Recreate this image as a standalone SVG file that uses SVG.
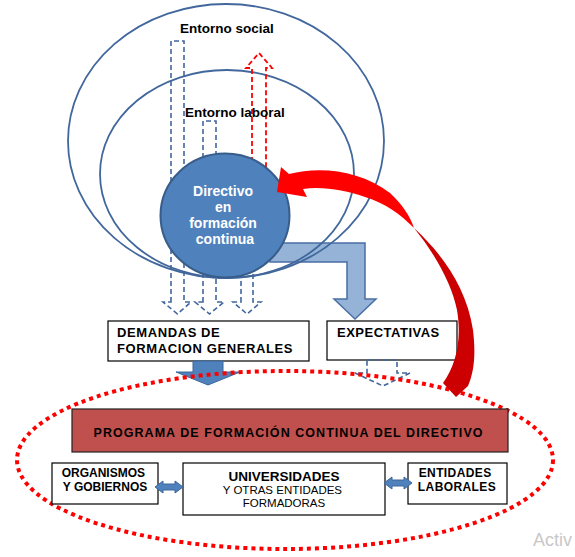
<svg xmlns="http://www.w3.org/2000/svg" width="575" height="557" viewBox="0 0 575 557">
<style>
text{font-family:"Liberation Sans",Arial,sans-serif;}
.b{font-weight:bold;}
.env{fill:none;stroke:#41679C;stroke-width:1.8;}
.dash{fill:none;stroke:#41679C;stroke-width:1.6;stroke-dasharray:5,3;}
.dashr{fill:none;stroke:#FF0000;stroke-width:1.8;stroke-dasharray:5,3;}
.box{fill:#fff;stroke:#000;stroke-width:1.2;}
.dbl{fill:#4F81BD;stroke:#3A679C;stroke-width:1;}
</style>
<rect width="575" height="557" fill="#fff"/>
<g id="connectors">
  <path id="bent-arrow" d="M270,243 L365,243 L365,299 L376,299 L355,319 L334,299 L347,299 L347,262 L270,262 Z" fill="#95B3D7" stroke="#4A6FA5" stroke-width="1.5"/>
</g>
<g id="entorno-social">
  <ellipse class="env" cx="226" cy="141" rx="158" ry="137"/>
</g>
<g id="entorno-laboral">
  <ellipse class="env" cx="227" cy="174" rx="127" ry="104"/>
</g>
<g id="connectors-dashed">
  <path class="dash" d="M171,302 L171,41 L184,41 L184,302 L191,302 L177.5,314 L163,302 Z"/>
  <path class="dash" d="M203,302 L203,121 L216,121 L216,302 L224,302 L209.5,314 L195,302 Z"/>
  <path class="dash" d="M241,302 L241,250 L253,250 L253,302 L261,302 L247,314 L233,302 Z"/>
  <path class="dashr" d="M252,170 L252,68 L246,68 L259,53 L272,68 L266,68 L266,170"/>
</g>
<g id="entorno-labels">
  <text class="b" x="227" y="33" font-size="13.5" text-anchor="middle">Entorno social</text>
  <text class="b" x="235" y="117" font-size="13.5" text-anchor="middle">Entorno laboral</text>
</g>
<g id="directivo">
  <ellipse cx="225" cy="215.5" rx="64.5" ry="62" fill="#4F81BD" stroke="#385D8A" stroke-width="2"/>
  <text class="b" font-size="14" fill="#fff" text-anchor="middle">
    <tspan x="225" y="196">Directivo</tspan>
    <tspan x="225" y="212">en</tspan>
    <tspan x="225" y="228">formación</tspan>
    <tspan x="225" y="244">continua</tspan>
  </text>
</g>
<g id="demandas">
  <rect class="box" x="108" y="321" width="201" height="40"/>
  <text class="b" font-size="13" letter-spacing="0.6">
    <tspan x="117" y="337">DEMANDAS  DE</tspan>
    <tspan x="117" y="353">FORMACION GENERALES</tspan>
  </text>
</g>
<g id="expectativas">
  <rect class="box" x="327" y="321" width="130" height="39"/>
  <text class="b" x="337" y="337" font-size="13" letter-spacing="0.5">EXPECTATIVAS</text>
</g>
<g id="connectors-lower">
  <path d="M193,361 L223,361 L223,372 L240,372 L208,385 L176,372 L193,372 Z" fill="#4F81BD" stroke="#3A679C" stroke-width="1"/>
  <path class="dash" d="M367,360 L397,360 L397,373 L410,373 L383,386 L355,373 L367,373 Z"/>
</g>
<g id="programa-zona">
  <ellipse cx="285" cy="460" rx="268" ry="89" fill="none" stroke="#FF0000" stroke-width="4" stroke-dasharray="4,4"/>
</g>
<g id="red-curved-arrow">
  <path d="M277,192 L281,167 L289,174 C320,166 360,170 390,193 C402,204 410,216 414,228 C400,214 385,203 365,197 C345,190 322,186 303,189 L307,197 Z" fill="#FF0000"/>
  <path d="M414,228 C440,252 466,285 473,330 C476,355 474,372 468,386 L456,397 L443,383 C456,365 462,340 457,310 C452,285 436,255 414,228 Z" fill="#CC0000"/>
</g>
<g id="programa">
  <rect x="72" y="409" width="436" height="43" fill="#C0504D" stroke="#222" stroke-width="1.2"/>
  <text class="b" x="288" y="437" font-size="12.5" text-anchor="middle" textLength="389" lengthAdjust="spacing">PROGRAMA DE FORMACIÓN CONTINUA DEL DIRECTIVO</text>
</g>
<g id="organismos">
  <rect class="box" x="52" y="463" width="106" height="41"/>
  <text class="b" font-size="12" text-anchor="middle">
    <tspan x="105" y="477">ORGANISMOS</tspan>
    <tspan x="105" y="491">Y GOBIERNOS</tspan>
  </text>
</g>
<g id="universidades">
  <rect class="box" x="183" y="463" width="202" height="52"/>
  <text x="284" y="481" class="b" font-size="13.5" text-anchor="middle">UNIVERSIDADES</text>
  <text font-size="11.5" text-anchor="middle">
    <tspan x="284" y="494">Y OTRAS ENTIDADES</tspan>
    <tspan x="284" y="507">FORMADORAS</tspan>
  </text>
</g>
<g id="entidades">
  <rect class="box" x="408" y="463" width="99" height="41"/>
  <text class="b" font-size="12" text-anchor="middle" letter-spacing="0.4">
    <tspan x="457" y="477">ENTIDADES</tspan>
    <tspan x="457" y="491">LABORALES</tspan>
  </text>
</g>
<g id="connectors-double">
  <path class="dbl" d="M155,487 L163,481 L163,484 L175,484 L175,481 L183,487 L175,493 L175,490 L163,490 L163,493 Z"/>
  <path class="dbl" d="M384,483 L392,477 L392,480 L404,480 L404,477 L412,483 L404,489 L404,486 L392,486 L392,489 Z"/>
</g>
<text x="533" y="546" font-size="18" fill="#C8C8C8">Activ</text>
</svg>
